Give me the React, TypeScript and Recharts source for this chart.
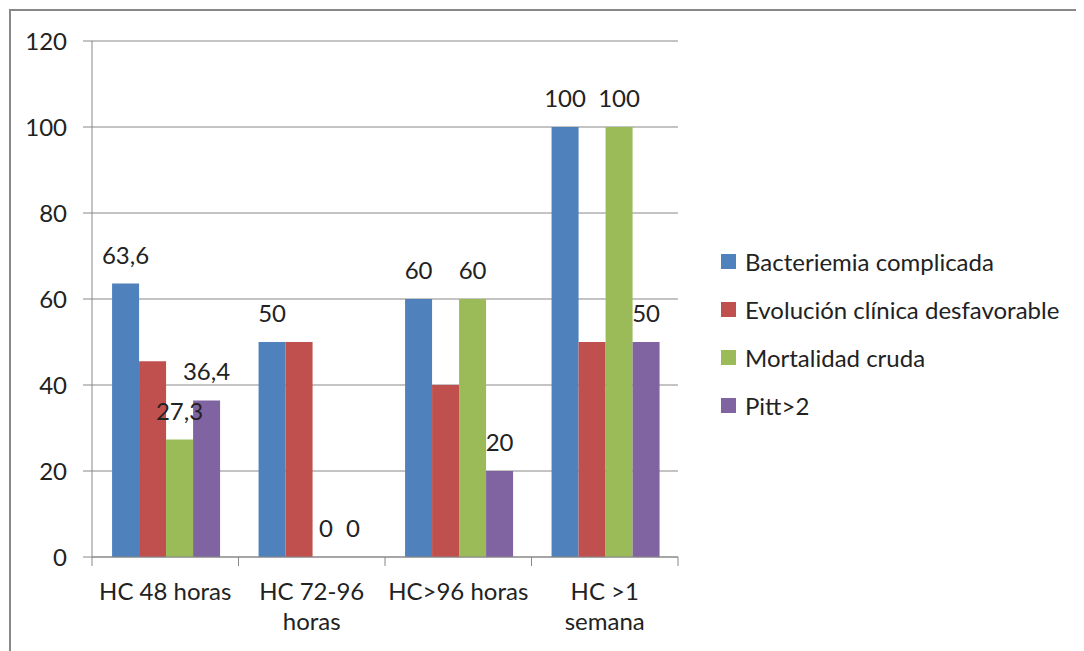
import React from 'react';
import { BarChart, Bar, XAxis, YAxis, CartesianGrid, Legend, LabelList } from 'recharts';

const categories = ['HC 48 horas', 'HC 72-96\nhoras', 'HC>96 horas', 'HC >1\nsemana'];
const bacteriemia = [63.6, 50, 60, 100];
const evolucion = [45.5, 50, 40, 50];
const mortalidad = [27.3, 0, 60, 100];
const pitt = [36.4, 0, 20, 50];
const seriesNames = ['Bacteriemia complicada', 'Evolución clínica desfavorable', 'Mortalidad cruda', 'Pitt>2'];
const seriesKeys = ['bact', 'evol', 'mort', 'pitt'];
const colors = ['#4F81BD', '#C0504D', '#9BBB59', '#8064A2'];
const yTicks = [0, 20, 40, 60, 80, 100, 120];

const data = categories.map((name, i) => ({
  name,
  bact: bacteriemia[i],
  evol: evolucion[i],
  mort: mortalidad[i],
  pitt: pitt[i],
}));

const FONT = 'Lato, "Open Sans", sans-serif';
const FS = 24;
const TEXT = '#222';
const GRID = '#888';
const W = 1076;
const H = 643;
const margin = { top: 33, right: 406, bottom: 34, left: 24 };
const Y_W = 60;
const PLOT_W = W - margin.left - margin.right - Y_W;

const fmt = (v: any) => String(v).replace('.', ',');

const XTick = (props: any) => {
  const { x, y, payload, index } = props;
  const half = PLOT_W / categories.length / 2;
  const lines = String(payload.value).split('\n');
  return (
    <g>
      <line x1={x - half} x2={x - half} y1={y} y2={y + 9} stroke={GRID} />
      {index === categories.length - 1 && (
        <line x1={x + half} x2={x + half} y1={y} y2={y + 9} stroke={GRID} />
      )}
      {lines.map((l, i) => (
        <text key={i} x={x} y={y + 43 + i * 30} textAnchor="middle" fill={TEXT}
          fontSize={FS} fontFamily={FONT}>{l}</text>
      ))}
    </g>
  );
};

const renderLegend = () => (
  <div style={{ fontFamily: FONT, fontSize: FS, color: TEXT }}>
    {seriesNames.map((n, i) => (
      <div key={n} style={{ display: 'flex', alignItems: 'center', height: 48, whiteSpace: 'nowrap' }}>
        <span style={{ display: 'inline-block', width: 15, height: 15, background: colors[i], marginRight: 9 }} />
        {n}
      </div>
    ))}
  </div>
);

export default function App() {
  return (
    <div style={{ position: 'relative', width: W, height: H, overflow: 'hidden', background: '#fff' }}>
      <div style={{
        position: 'absolute', left: 1, top: 1, width: W + 20, height: H + 20,
        borderLeft: `2px solid ${GRID}`, borderTop: `2px solid ${GRID}`,
      }} />
      <BarChart width={W} height={H} data={data} margin={margin}
        barCategoryGap="13.7%" barGap={0}>
        <CartesianGrid vertical={false} stroke={GRID} />
        <XAxis dataKey="name" interval={0} tickLine={false} tickSize={0} tickMargin={0}
          axisLine={{ stroke: GRID }} tick={<XTick />} height={60} />
        <YAxis domain={[0, 120]} ticks={yTicks} interval={0} width={Y_W}
          tickSize={9} tickMargin={16} axisLine={{ stroke: GRID }} tickLine={{ stroke: GRID }}
          tick={{ fill: TEXT, fontSize: FS, fontFamily: FONT }} />
        <Legend layout="vertical" align="center" verticalAlign="middle"
          content={renderLegend} wrapperStyle={{ left: 713, top: 229, width: 360 }} />
        {seriesKeys.map((k, i) => (
          <Bar key={k} dataKey={k} name={seriesNames[i]} fill={colors[i]}
            minPointSize={0.01} isAnimationActive={false}>
            {k !== 'evol' && (
              <LabelList dataKey={k} position="top" offset={20} formatter={fmt}
                fill={TEXT} fontSize={FS} fontFamily={FONT} />
            )}
          </Bar>
        ))}
      </BarChart>
    </div>
  );
}
